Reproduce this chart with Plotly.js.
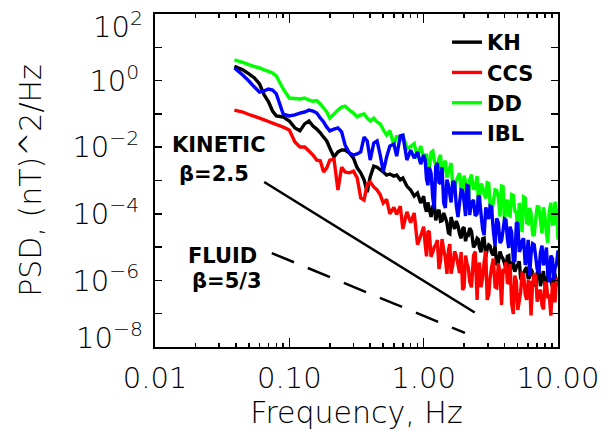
<!DOCTYPE html>
<html>
<head>
<meta charset="utf-8">
<script src="https://cdn.plot.ly/plotly-3.0.1.min.js"></script>
<style>html,body{margin:0;padding:0;background:#fff;}#chart{width:605px;height:440px;}</style>
</head>
<body>
<div id="chart"></div>
<script>
// Frequency grid (Hz)
const freq = [0.039,0.045,0.05,0.055,0.06,0.065,0.07,0.075,0.08,0.09,0.1,0.11,0.12,0.13,0.14,0.15,0.16,0.17,0.18,0.19,0.2,0.215,0.23,0.245,0.26,0.28,0.3,0.32,0.34,0.36,0.38,0.4,0.425,0.45,0.475,
  0.5,0.53,0.56,0.6,0.63,0.67,0.7,0.75,0.8,0.85,0.9,0.95,
  1.0,1.025,1.05,1.075,1.1,1.135,1.17,1.2,1.23,1.265,1.3,1.335,1.37,1.41,1.45,1.49,1.53,1.565,1.6,1.65,1.7,1.75,1.8,1.85,1.9,1.95,
  2.0,2.05,2.1,2.15,2.2,2.27,2.35,2.42,2.5,2.55,2.6,2.67,2.75,2.82,2.9,2.97,3.05,3.12,3.2,3.3,3.4,3.5,3.6,3.7,3.8,3.9,
  4.0,4.1,4.2,4.3,4.4,4.52,4.65,4.77,4.9,5.02,5.15,5.27,5.4,5.55,5.7,5.85,6.0,6.15,6.3,6.47,6.65,6.82,7.0,7.2,7.4,7.6,7.8,8.0,8.2,8.4,8.6,8.85,9.1,9.3,9.5,9.75,10.0];

// PSD values (nT^2/Hz)
const khPsd = [2.7,2.1,1.6,1.2,0.79,0.37,0.23,0.122,0.087,0.081,0.061,0.038,0.031,0.050,0.061,0.043,0.035,0.027,0.020,0.0154,0.0095,0.0051,0.0072,0.0082,0.0082,0.0067,0.0047,0.0024,0.0017,0.00104,4.5e-4,1.27e-3,2.7e-3,2.5e-3,2.1e-3,
  1.8e-3,1.46e-3,1.57e-3,1.36e-3,1.46e-3,1.04e-3,1.19e-3,6.8e-4,5.2e-4,3.4e-4,4.2e-4,2.1e-4,
  3.4e-4,1.61e-4,1.16e-4,2.2e-4,1.44e-4,8.1e-5,1.67e-4,2.0e-4,6.4e-5,1.04e-4,1.33e-4,6.0e-5,6.2e-5,1.06e-4,7.6e-5,5.4e-5,2.65e-5,2.5e-5,8.0e-5,5.0e-5,3.5e-5,6.1e-5,4.4e-5,2.5e-5,1.83e-5,3.6e-5,
  3.9e-5,1.5e-5,2.4e-5,2.3e-5,3.75e-5,3.0e-5,9.9e-6,1.19e-5,1.83e-5,1.7e-5,9.7e-6,7.0e-6,1.78e-5,1.85e-5,5.05e-6,8.6e-6,1.16e-5,1.08e-5,7.0e-6,5.6e-6,1.08e-5,2.9e-6,3.45e-6,7.4e-6,5.25e-6,4.4e-6,
  3.2e-6,2.3e-6,5.25e-6,5.5e-6,1.65e-6,3.3e-6,3.6e-6,1.83e-6,2.5e-6,3.0e-6,3.7e-6,1.17e-6,9.6e-7,1.7e-6,2.1e-6,2.5e-6,1.13e-6,1.24e-6,2.2e-6,1.68e-6,1.27e-6,6.6e-7,1.7e-6,2.1e-6,6.7e-7,1.2e-6,1.9e-6,7.0e-7,8.8e-7,1.42e-6,1.23e-6,9.5e-7,6.4e-7,1.5e-6,1.48e-6,7.0e-7,1.0e-6];

const ccsPsd = [0.13,0.114,0.096,0.084,0.075,0.066,0.059,0.053,0.048,0.040,0.033,0.0143,0.0101,0.0101,0.0077,0.0058,0.0041,0.0039,0.0018,0.0024,0.0041,0.0044,5.2e-4,0.0025,0.0018,0.0017,0.0019,0.0012,3.0e-4,2.6e-4,7.8e-4,9.0e-4,6.4e-4,5.2e-4,3.7e-4,
  2.1e-4,2.7e-4,1.0e-4,1.55e-4,9.6e-5,1.69e-4,3.5e-5,1.15e-4,5.4e-5,1.06e-4,1.19e-5,2.15e-5,
  4.1e-5,1.27e-5,5.3e-6,2.8e-5,3.0e-5,5.2e-6,7.1e-6,1.0e-5,1.16e-5,1.63e-5,2.2e-6,3.85e-6,1.75e-5,8.3e-6,4.7e-6,1.57e-6,8.1e-6,1.24e-5,1.58e-6,3.05e-6,7.4e-6,5.4e-6,3.0e-6,1.68e-6,7.1e-6,5.2e-7,
  6.3e-7,5.6e-6,3.2e-6,2.4e-6,9.3e-7,6.2e-7,5.5e-6,7.4e-6,2.6e-7,2.5e-6,3.4e-6,6.3e-7,1.22e-6,3.6e-6,7.6e-6,2.6e-7,3.7e-7,1.14e-6,2.4e-6,4.5e-6,6.4e-7,6.0e-7,3.3e-6,1.54e-6,1.83e-7,1.95e-6,
  1.87e-6,3.5e-6,8.6e-7,8.3e-7,3.1e-6,2.0e-7,9.8e-8,1.39e-6,9.4e-7,1.29e-7,2.4e-7,4.5e-7,1.59e-6,1.48e-6,3.8e-7,2.6e-7,9.3e-7,8.9e-7,8.9e-8,8.2e-7,1.46e-6,1.36e-6,2.3e-7,4.0e-7,5.3e-7,1.77e-7,1.35e-7,8.4e-7,8.2e-7,2.9e-7,3.75e-7,8.7e-8,8.6e-7,5.5e-7,2.2e-7,1.22e-6,8.0e-7];

const ddPsd = [4.2,3.5,3.0,2.65,2.4,2.1,1.9,1.7,1.37,0.56,0.30,0.29,0.28,0.30,0.26,0.24,0.25,0.20,0.15,0.114,0.075,0.099,0.13,0.16,0.17,0.13,0.106,0.081,0.093,0.099,0.075,0.061,0.075,0.057,0.050,
  0.0338,0.0232,0.0312,0.0116,0.022,0.0165,0.0241,0.00895,0.0105,0.0128,0.00467,0.0109,
  0.00474,4.45e-3,0.00641,2.15e-3,0.00193,7.0e-3,0.00769,3.9e-3,0.00313,1.79e-3,0.00461,5.9e-3,0.00136,3.0e-3,0.00396,1.22e-3,0.00191,2.5e-3,0.00335,6.0e-4,5.4e-4,1.0e-3,1.29e-3,1.67e-3,5.1e-4,5.8e-4,
  1.40e-3,9.4e-4,2.4e-4,2.3e-4,1.06e-3,1.5e-3,5.4e-4,6.3e-4,1.36e-3,2.5e-4,2.4e-4,8.1e-4,6.3e-4,3.9e-4,2.9e-4,8.6e-4,8.2e-4,2.0e-4,1.16e-4,2.2e-4,5.3e-4,5.1e-4,3.0e-4,8.3e-5,6.8e-4,6.6e-4,
  5.3e-5,2.2e-4,2.6e-4,9.2e-5,8.7e-5,3.8e-4,3.6e-4,1.2e-4,1.13e-4,2.7e-5,2.1e-4,1.56e-4,2.8e-5,3.2e-4,3.0e-4,5.4e-5,5.1e-5,1.5e-4,1.08e-4,2.4e-5,2.2e-5,7.0e-5,1.63e-4,1.6e-4,6.4e-5,2.6e-5,1.56e-4,8.5e-5,2.5e-5,1.36e-5,1.15e-4,2.15e-4,4.9e-5,5.0e-5,2.3e-4,1.26e-4,1.66e-5];

const iblPsd = [2.4,1.47,0.97,0.64,0.45,0.49,0.56,0.52,0.40,0.099,0.087,0.093,0.106,0.114,0.13,0.122,0.106,0.075,0.057,0.040,0.031,0.035,0.038,0.029,0.0116,0.0067,0.0058,0.0063,0.0072,0.020,0.0154,0.0041,0.0134,0.0154,0.0058,
  0.0018,0.0051,0.0108,0.0125,0.0054,0.022,0.023,0.0041,0.0082,0.0047,0.0072,0.0031,
  5.8e-3,4.2e-3,1.11e-3,7.2e-4,2.5e-3,1.66e-3,2.9e-4,1.44e-4,2.6e-3,3.35e-3,8.8e-4,8.1e-4,2.5e-3,2.1e-4,1.5e-4,1.06e-3,7.3e-4,3.9e-4,2.2e-4,9.5e-4,8.6e-4,1.77e-4,8.0e-5,2.1e-4,5.2e-4,5.0e-4,
  2.3e-4,8.6e-5,7.1e-4,6.7e-4,9.2e-5,2.2e-4,2.6e-4,8.7e-5,1.0e-4,3.5e-4,3.2e-4,1.04e-4,3.4e-5,2.3e-5,1.56e-4,1.04e-4,7.0e-5,1.7e-4,1.6e-4,3.2e-5,1.08e-5,7.3e-5,5.3e-5,1.33e-5,1.57e-5,3.2e-5,
  6.9e-5,6.4e-5,1.8e-5,9.4e-6,4.1e-5,2.8e-5,4.0e-6,3.6e-6,5.5e-5,5.1e-5,7.2e-6,9.1e-6,1.54e-5,1.83e-5,2.9e-6,4.8e-6,1.66e-5,1.43e-6,6.3e-6,1.27e-5,1.18e-5,5.1e-6,2.2e-6,1.6e-6,6.9e-6,1.1e-5,2.85e-6,4.6e-6,9.7e-6,1.5e-6,8.8e-7,5.6e-6,4.5e-6,1.06e-6,2.3e-6,3.1e-6,8.0e-6];

// Reference power laws
const kineticFreq = [0.065, 2.4];
const kineticPsd = [9.0e-4, 1.085e-7];
const fluidFreq = [0.074, 2.03];
const fluidPsd = [6.6e-6, 2.64e-8];

const seriesNames = ['KH','CCS','DD','IBL'];
const seriesColors = ['#000000','#ff0000','#00ff00','#0000ff'];
const seriesData = [khPsd, ccsPsd, ddPsd, iblPsd];

const yTickVals = [1e-6,1e-4,1e-2,1];
const yTickText = ['10<sup>−6</sup>','10<sup>−4</sup>','10<sup>−2</sup>','10<sup>0</sup>'];
const yOtherTicks = [1e-8,1e-7,1e-5,1e-3,1e-1,10,100];
const xTickVals = [0.01,0.1,1,10];
const xTickText = ['0.01','0.10','1.00','10.00'];
const xMinorVals = [0.02,0.03,0.04,0.05,0.06,0.07,0.08,0.09,0.2,0.3,0.4,0.5,0.6,0.7,0.8,0.9,2,3,4,5,6,7,8,9];

const thinFont = {family:'DejaVu Sans', size:29, color:'#000', weight:200};
const boldFont = {family:'DejaVu Sans', size:21, color:'#000', weight:'bold'};

const traces = seriesNames.map((n,i)=>({
  x: freq, y: seriesData[i], type:'scatter', mode:'lines', name:n,
  line:{color:seriesColors[i], width:3.4, simplify:false}, hoverinfo:'skip'
}));
traces.push({x:kineticFreq, y:kineticPsd, type:'scatter', mode:'lines', showlegend:false,
  line:{color:'#000', width:2.5}, hoverinfo:'skip'});
traces.push({x:fluidFreq, y:fluidPsd, type:'scatter', mode:'lines', showlegend:false,
  line:{color:'#000', width:2.5, dash:'24px,15px'}, hoverinfo:'skip'});

const layout = {
  width:605, height:440,
  margin:{l:155, r:47, t:14, b:93},
  paper_bgcolor:'#fff', plot_bgcolor:'#fff',
  showlegend:true,
  legend:{x:0.7246, y:0.976, xanchor:'left', yanchor:'top', bgcolor:'rgba(0,0,0,0)', font:boldFont, itemwidth:30, tracegroupgap:0},
  xaxis:{type:'log', range:[-2,1], tickmode:'array', tickvals:xTickVals, ticktext:xTickText,
    ticks:'inside', ticklen:9, tickwidth:1.5, tickcolor:'#000', mirror:'allticks',
    minor:{tickmode:'array', tickvals:xMinorVals, ticks:'inside', ticklen:4, tickwidth:1.5, tickcolor:'#000', showgrid:false},
    showline:true, linewidth:2, linecolor:'#000', showgrid:false, zeroline:false,
    tickfont:thinFont, ticklabelstandoff:4,
    title:{text:'Frequency, Hz', font:{family:'DejaVu Sans', size:30, color:'#000', weight:200}, standoff:8}},
  yaxis:{type:'log', range:[-8,2], tickmode:'array', tickvals:yTickVals, ticktext:yTickText,
    ticks:'inside', ticklen:7, tickwidth:1.5, tickcolor:'#000', mirror:'allticks',
    minor:{tickmode:'array', tickvals:yOtherTicks, ticks:'inside', ticklen:7, tickwidth:1.5, tickcolor:'#000', showgrid:false},
    showline:true, linewidth:2, linecolor:'#000', showgrid:false, zeroline:false,
    tickfont:thinFont, ticklabelstandoff:8,
    title:{text:'PSD, (nT)^2/Hz', font:{family:'DejaVu Sans', size:30, color:'#000', weight:200}, standoff:22}},
  annotations:[
    {text:'10<sup>2</sup>', xref:'paper', yref:'paper', x:-0.0248, y:1.03, xanchor:'right', yanchor:'top', showarrow:false, font:thinFont},
    {text:'10<sup>−8</sup>', xref:'paper', yref:'paper', x:-0.0248, y:-0.03, xanchor:'right', yanchor:'bottom', showarrow:false, font:thinFont},
    {text:'KINETIC', xref:'paper', yref:'paper', x:0.1576, y:0.6066, xanchor:'center', yanchor:'middle', showarrow:false, font:boldFont},
    {text:'β=2.5', xref:'paper', yref:'paper', x:0.1452, y:0.5195, xanchor:'center', yanchor:'middle', showarrow:false, font:boldFont},
    {text:'FLUID', xref:'paper', yref:'paper', x:0.1663, y:0.2733, xanchor:'center', yanchor:'middle', showarrow:false, font:boldFont},
    {text:'β=5/3', xref:'paper', yref:'paper', x:0.1787, y:0.1982, xanchor:'center', yanchor:'middle', showarrow:false, font:boldFont}
  ]
};

Plotly.newPlot('chart', traces, layout, {displayModeBar:false, staticPlot:true});
</script>
</body>
</html>
